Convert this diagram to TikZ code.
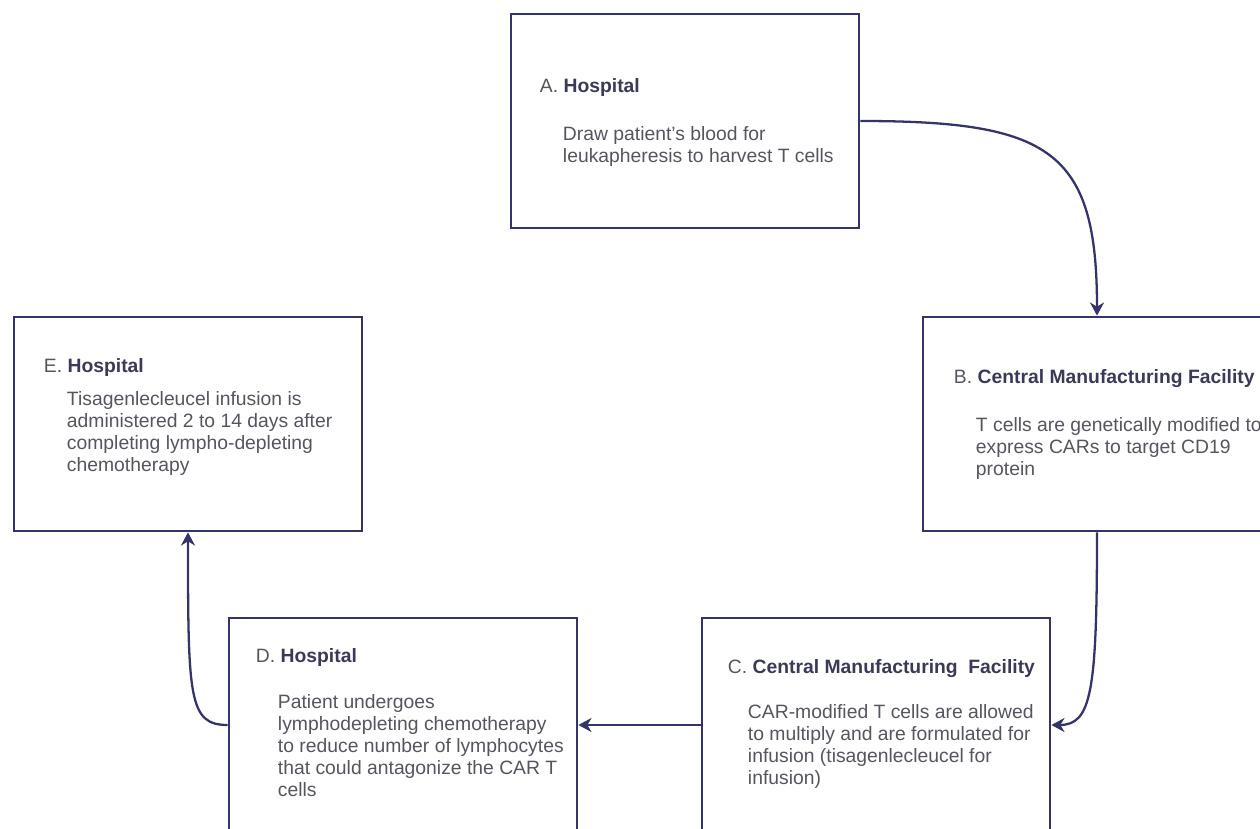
\documentclass[tikz,border=0pt]{standalone}
\usepackage{fontspec}
\setmainfont{Liberation Sans}
\usetikzlibrary{arrows.meta}

\definecolor{navy}{HTML}{34346A}
\definecolor{ink}{HTML}{55555F}
\definecolor{head}{HTML}{3A3A58}

\begin{document}
\begin{tikzpicture}[
    x=0.02cm, y=-0.02cm,
    box/.style={
      draw=navy,
      line width=1.6pt,
      minimum width=6.96cm,
      minimum height=4.28cm,
      inner sep=0pt
    },
    title/.style={
      anchor=base west,
      inner sep=0pt,
      text=ink,
      font=\fontsize{11}{12.5}\selectfont
    },
    body/.style={
      anchor=north west,
      inner sep=0pt,
      align=left,
      text=ink,
      font=\fontsize{11}{12.5}\selectfont
    },
    link/.style={
      draw=navy,
      line width=1.3pt,
      -{Stealth[length=7.5pt,width=8pt]}
    }
  ]

  \useasboundingbox (0,0) rectangle (1260,828);
  \clip (0,0) rectangle (1260,828);

  \node[box] (a) at (685,121) {};
  \node[box] (b) at (1097,424) {};
  \node[box] (c) at (876,725) {};
  \node[box] (d) at (403,725) {};
  \node[box] (e) at (188,424) {};

  \node[title] (ta) at ([shift={(30,80)}]a.north west) {A. \textcolor{head}{\bfseries Hospital}};
  \node[body] (ba) at ([shift={(53,114)}]a.north west) {Draw patient's blood for\\leukapheresis to harvest T cells};

  \node[title] (tb) at ([shift={(32,68)}]b.north west) {B. \textcolor{head}{\bfseries Central Manufacturing Facility}};
  \node[body] (bb) at ([shift={(54,102)}]b.north west) {T cells are genetically modified to\\express CARs to target CD19\\protein};

  \node[title] (tc) at ([shift={(27,57)}]c.north west) {C. \textcolor{head}{\bfseries Central Manufacturing\hspace{0.55em}Facility}};
  \node[body] (bc) at ([shift={(47,88)}]c.north west) {CAR-modified T cells are allowed\\to multiply and are formulated for\\infusion (tisagenlecleucel for\\infusion)};

  \node[title] (td) at ([shift={(28,46)}]d.north west) {D. \textcolor{head}{\bfseries Hospital}};
  \node[body] (bd) at ([shift={(50,78)}]d.north west) {Patient undergoes\\lymphodepleting chemotherapy\\to reduce number of lymphocytes\\that could antagonize the CAR T\\cells};

  \node[title] (te) at ([shift={(31,57)}]e.north west) {E. \textcolor{head}{\bfseries Hospital}};
  \node[body] (be) at ([shift={(54,76)}]e.north west) {Tisagenlecleucel infusion is\\administered 2 to 14 days after\\completing lympho-depleting\\chemotherapy};

  \draw[link] (a.east) .. controls +(190,0) and +(0,-165) .. (b.north);
  \draw[link] (b.south) .. controls +(0,160) and +(40,0) .. (c.east);
  \draw[link] (c.west) -- (d.east);
  \draw[link] (d.west) .. controls +(-39,0) and +(0,165) .. (e.south);

\end{tikzpicture}
\end{document}
